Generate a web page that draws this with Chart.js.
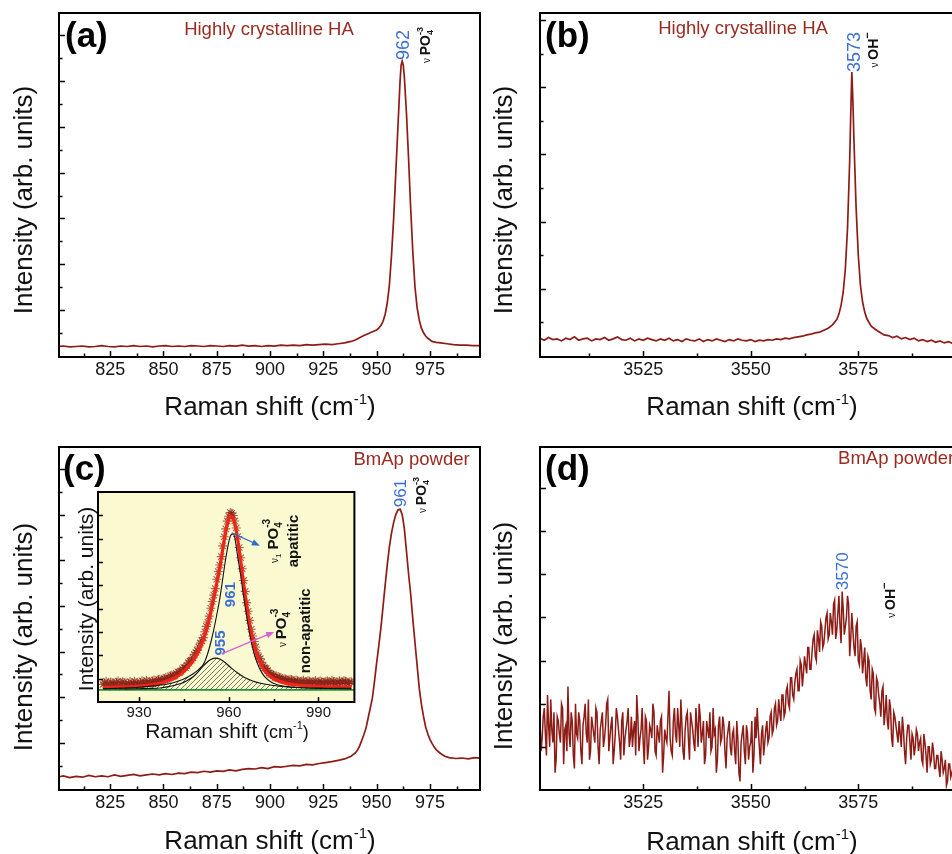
<!DOCTYPE html>
<html><head><meta charset="utf-8">
<script src="https://cdn.jsdelivr.net/npm/chart.js@4.4.0/dist/chart.umd.min.js"></script>
<style>
html,body{margin:0;padding:0;background:#fff;}
#wrap{position:relative;width:952px;height:854px;overflow:hidden;background:#fff;}
canvas{position:absolute;}
</style></head><body>
<div id="wrap">
<canvas id="cA" width="484" height="430" style="left:0px;top:0px"></canvas>
<canvas id="cB" width="490" height="430" style="left:480px;top:0px"></canvas>
<canvas id="cC" width="484" height="424" style="left:0px;top:430px"></canvas>
<canvas id="cD" width="490" height="424" style="left:480px;top:430px"></canvas>
<canvas id="cI" width="300" height="265" style="left:60px;top:480px"></canvas>
</div>
<script>
// ================= DATA =================
// tick labels
const LOW_X_LABELS = [825, 850, 875, 900, 925, 950, 975];
const HIGH_X_LABELS = [3525, 3550, 3575];
const INSET_X_LABELS = [930, 960, 990];

// (a) Highly crystalline HA, PO4 region
const A_X = [800,803,806,809,812,815,818,821,824,827,830,833,836,839,842,845,848,851,854,857,860,863,866,869,872,875,878,881,884,887,890,893,896,899,902,905,908,911,914,917,920,923,926,929,932,935,938,940,942,944,946,948,950,951,952,953,954,955,956,957,958,959,960,961,961.5,962,962.5,963,964,965,966,967,968,969,970,971,972,973,974,976,978,980,983,986,989,992,995,998.5];
const A_Y = [2.0,2.1,1.9,2.0,2.1,1.9,2.0,2.2,2.0,1.9,2.1,2.0,2.2,2.0,2.1,1.9,2.1,2.2,2.0,2.1,2.0,2.2,2.1,2.0,2.2,2.1,2.0,2.2,2.1,2.3,2.1,2.2,2.0,2.2,2.1,2.3,2.2,2.3,2.2,2.4,2.3,2.4,2.5,2.4,2.6,2.8,3.1,3.4,3.9,4.4,4.8,5.2,5.6,6.0,6.6,7.5,9.0,11.5,15.5,22,30,40,50,60,63.5,64.4,63.5,61,53,43,32,22.5,15,10.5,7.8,6.0,5.0,4.3,3.8,3.1,2.9,2.8,2.6,2.4,2.3,2.3,2.2,2.2];

// (b) Highly crystalline HA, OH region
const B_X = [3501,3502,3503,3504,3505,3506,3507,3508,3509,3510,3511,3512,3513,3514,3515,3516,3517,3518,3519,3520,3521,3522,3523,3524,3525,3526,3527,3528,3529,3530,3531,3532,3533,3534,3535,3536,3537,3538,3539,3540,3541,3542,3543,3544,3545,3546,3547,3548,3549,3550,3551,3552,3553,3554,3555,3556,3557,3558,3559,3560,3561,3562,3563,3564,3565,3566,3567,3568,3569,3570,3570.5,3571,3571.5,3572,3572.5,3573,3573.25,3573.5,3573.75,3574,3574.5,3575,3575.5,3576,3576.5,3577,3578,3579,3580,3581,3582,3583,3584,3585,3586,3587,3588,3589,3590,3591,3592,3593,3594,3595,3596,3597,3598,3599,3600];
const B_Y = [2.6,2.3,2.7,2.4,2.5,2.2,2.6,2.4,2.8,2.3,2.5,2.6,2.2,2.5,2.4,2.7,2.3,2.5,2.8,2.4,2.3,2.6,2.2,2.5,2.3,2.6,2.4,2.2,2.5,2.3,2.6,2.2,2.4,2.1,2.5,2.3,2.2,2.5,2.1,2.4,2.2,2.5,2.3,2.1,2.4,2.2,2.5,2.3,2.2,2.4,2.1,2.3,2.2,2.4,2.3,2.5,2.4,2.6,2.5,2.7,2.8,2.9,3.1,3.2,3.4,3.5,3.8,4.1,4.6,5.4,6.2,7.5,9.5,13,19,29,36,42.3,38,32,22,15,10.5,8,6.5,5.5,4.4,3.9,3.5,3.1,3.0,2.7,2.9,2.5,2.7,2.4,2.6,2.2,2.4,2.1,2.3,2.0,2.2,1.9,2.1,1.8,2.0,1.9,2.0];

// (c) BmAp powder, PO4 region
const C_X = [800,803,806,809,812,815,818,821,824,827,830,833,836,839,842,845,848,851,854,857,860,863,866,869,872,875,878,881,884,887,890,893,896,899,902,905,908,911,914,917,920,923,926,929,932,935,938,940,941,942,943,944,945,946,947,948,949,950,951,952,953,954,955,956,957,958,959,960,961,962,963,964,965,966,967,968,969,970,971,972,973,974,975,976,977,978,980,982,984,987,990,993,996,998.5];
const C_Y = [2.5,2.8,2.4,2.7,2.5,2.9,2.6,2.8,2.6,3.0,2.7,2.9,3.1,2.8,3.0,3.2,3.0,3.3,3.1,3.4,3.3,3.6,3.5,3.8,3.6,3.9,3.8,4.1,3.9,4.2,4.4,4.3,4.6,4.4,4.8,4.7,4.9,5.1,5.0,5.3,5.2,5.5,5.7,5.9,6.2,6.5,7.1,7.8,8.4,9.3,10.5,11.8,13.2,15.4,17.6,19.8,23.5,27.5,31.2,35.2,39.8,44.5,49,53,56,58.3,60,61,61.2,60,57,52,47,42.5,37,32,27,22,18.5,15.8,13.5,12,10.8,9.9,9.1,8.5,7.7,7.1,6.8,6.6,6.7,6.5,6.8,6.7];

// (d) BmAp powder, OH region: samples every 0.5 cm-1 from 3501 (D_Y) and from 3501.25 (D_Y2)
const D_X0 = 3501, D_DX = 0.5;
const D_Y = [16,12,19,8,15,21,11,4,17,13,20,6,15,
 24,10,16,5,13,18,9,15,20,11,7,17,13,19,10,14,
 18,12,20,9,15,6,13,17,11,16,8,14,19,12,
 10,16,22,9,14,11,17,7,15,12,18,8,13,16,4,14,
 11,23,9,16,13,19,10,15,7,17,12,18,14,9,
 15,20,11,16,8,14,18,10,13,4,15,11,17,9,12,16,
 8,14,6,12,2,13,9,15,7,11,4,17,19,10,13,8,
 14,11,17,13,19,15,21,16,22,18,24,19,26,21,27,23,30,24,
 31,27,33,28,35,31,37,32,38,34,40,35,
 41,36,44,37,45,34,42,38,45,31,
 41,33,38,30,35,27,
 33,24,30,21,27,18,25,20,23,15,
 22,14,19,10,17,13,
 16,10,14,6,15,11,13,8,14,
 9,12,6,11,4,10,7,9,5,
 8,3,7,5,1,6,3,5,2,6,3,4,2,5];
const D_Y2 = [9,17,13,22,10,14,18,7,16,11,19,14,9,
 13,18,8,20,12,16,6,17,13,21,9,15,11,18,6,16,
 10,15,21,12,17,9,19,14,7,18,12,16,10,17,
 14,8,17,12,19,6,16,10,14,20,9,15,11,17,8,12,
 17,12,8,19,11,15,21,9,14,18,7,16,11,19,
 10,17,13,6,16,12,9,19,14,7,17,12,15,5,14,10,
 13,9,16,4,11,15,6,13,10,16,8,12,14,6,15,11,
 16,12,18,14,20,16,18,22,17,23,20,26,22,25,28,23,29,27,
 29,33,28,32,36,30,35,39,33,37,41,36,
 39,43,35,41,38,46,36,40,43,35,
 37,31,39,29,33,30,
 26,31,23,28,19,26,22,17,24,18,
 16,21,12,18,15,11,
 13,17,9,12,15,7,12,10,13,
 11,7,13,8,10,6,11,5,8,
 5,9,4,7,2,6,4,7,3,5,1,4,3];

// inset: measured points (stars), every 1 cm-1 from 918 and from 918.5
const IN_STAR_X0 = 918;
const IN_STAR_Y = [7.5,8.9,6.8,8.2,7.1,9.0,7.6,8.4,6.9,8.8,7.7,8.3,7.2,9.1,8.0,8.7,7.9,9.4,8.6,9.8,9.1,10.6,10.2,11.5,11.3,12.9,13.1,14.8,15.6,17.6,18.9,21.2,23.6,26.2,30.1,34.3,40.2,45.8,52.6,58.7,66.9,74.2,79.6,80.9,77.6,70.9,61.8,52.1,42.6,35.0,28.3,23.6,19.4,17.0,14.6,13.6,11.9,11.6,10.4,10.6,9.5,9.9,8.8,9.6,8.4,9.1,8.1,9.3,8.0,8.9,7.8,9.2,8.1,8.7,7.6,9.0,8.2,8.8,7.7,9.1,8.3,8.9,7.9,8.6];
const IN_STAR2_X0 = 918.5;
const IN_STAR2_Y = [8.1,7.2,8.6,7.4,8.5,6.9,8.7,7.3,8.0,7.1,8.9,7.5,8.4,7.8,9.2,8.1,9.0,8.4,9.6,9.0,10.1,9.8,11.2,11.0,12.3,12.6,14.2,14.7,16.8,17.9,20.4,22.1,25.3,27.6,32.4,36.8,43.1,48.6,55.9,62.3,70.8,77.5,81.2,79.9,74.6,66.2,57.1,47.4,38.9,31.2,25.9,21.0,18.6,15.5,14.3,12.4,11.8,10.5,10.9,9.6,10.0,8.9,9.7,8.5,9.4,8.2,9.0,7.9,9.1,8.3,8.7,7.7,9.0,8.2,8.9,7.8,9.3,8.0,8.6,7.9,9.2,8.1,8.7];
// inset: cumulative fit (red) and 961 component (black)
const IN_FIT_X = [918,922,926,930,934,937,940,942,944,946,948,950,951,952,953,954,955,956,957,958,959,960,960.7,961.5,962,963,964,965,966,967,968,969,970,971,972,974,976,979,983,988,994,1001];
const IN_FIT_Y = [6.2,6.4,6.5,6.8,7.4,8.0,9.2,10.4,12.0,14.4,17.5,22.0,25.0,28.5,33.0,38.5,44.5,51.0,57.5,65.5,73.0,78.3,79.8,78.5,76.5,69.5,60.5,50.5,41.5,33.5,27.0,22.0,18.2,15.4,13.4,10.8,9.3,8.1,7.3,6.8,6.5,6.3];
const IN_P961_Y = [5.7,5.7,5.6,5.7,5.8,6.0,6.6,7.2,7.9,9.1,10.7,13.2,15.1,17.4,20.9,25.5,31.0,37.4,44.3,52.9,61.5,68.5,71.5,72.0,70.5,62.3,54.2,45.0,36.7,29.2,23.2,18.6,15.2,12.7,10.9,8.7,7.5,6.7,6.2,6.0,5.9,5.9];
// inset: 955 component (hatched)
const IN_P955_X = [918,925,930,935,940,943,946,948,950,952,954,955.7,957,959,961,963,965,968,971,975,980,986,993,1001];
const IN_P955_Y = [5.7,6.0,6.3,6.9,7.8,8.9,10.5,12.0,14.0,16.3,18.2,18.8,18.4,16.7,14.4,12.4,10.7,9.0,7.9,7.1,6.4,6.0,5.8,5.6];
// inset baseline
const IN_BASE_X = [916.3, 1002];
const IN_BASE_Y = [5.2, 5.2];

// ================= HELPERS =================
const FONT = '"Liberation Sans", Arial, Helvetica, sans-serif';
const LINE = '#8e1c16';
const BROWN = '#9a2a1f';
const BLUE = '#3a6fd6';
const F = (s, b) => (b ? 'bold ' : '') + s + 'px ' + FONT;
const pts = (xs, ys) => ys.map((y, i) => ({x: xs[i], y}));
const grid = (x0, dx, ys) => ys.map((y, i) => ({x: +(x0 + i * dx).toFixed(3), y}));

function makeTicks(first, step, isMajor) {
  return scale => {
    const t = [];
    for (let v = first; v < scale.max - 1e-6; v = +(v + step).toFixed(4)) {
      if (v > scale.min + 1e-6) t.push({value: v, major: isMajor(v)});
    }
    scale.ticks = t;
  };
}

function drawRich(ctx, px, py, rotDeg, parts, color, align) {
  ctx.save();
  ctx.translate(px, py);
  ctx.rotate((rotDeg || 0) * Math.PI / 180);
  ctx.textBaseline = 'alphabetic';
  ctx.textAlign = 'left';
  let w = 0, seg = 0, maxS = 0;
  const xs = [];
  for (const p of parts) {
    ctx.font = F(p.s, p.b);
    const pw = ctx.measureText(p.t).width;
    maxS = Math.max(maxS, p.s);
    if (p.stack) { xs.push(seg); w = Math.max(w, seg + pw); }
    else { seg = w; xs.push(w); w += pw; }
  }
  const x0 = align === 'left' ? 0 : (align === 'right' ? -w : -w / 2);
  const base = 0.36 * maxS;
  parts.forEach((p, i) => {
    ctx.font = F(p.s, p.b);
    ctx.fillStyle = p.c || color || '#111';
    ctx.fillText(p.t, x0 + xs[i], base + (p.dy || 0));
  });
  ctx.restore();
}

function drawArrow(ctx, x1, y1, x2, y2, color, lw) {
  ctx.save();
  ctx.strokeStyle = color; ctx.fillStyle = color; ctx.lineWidth = lw;
  const ang = Math.atan2(y2 - y1, x2 - x1), L = 8, W = 3.2;
  ctx.beginPath(); ctx.moveTo(x1, y1);
  ctx.lineTo(x2 - L * 0.8 * Math.cos(ang), y2 - L * 0.8 * Math.sin(ang)); ctx.stroke();
  ctx.beginPath(); ctx.moveTo(x2, y2);
  ctx.lineTo(x2 - L * Math.cos(ang) + W * Math.sin(ang), y2 - L * Math.sin(ang) - W * Math.cos(ang));
  ctx.lineTo(x2 - L * Math.cos(ang) - W * Math.sin(ang), y2 - L * Math.sin(ang) + W * Math.cos(ang));
  ctx.closePath(); ctx.fill();
  ctx.restore();
}

function notesPlugin(items) {
  return {
    id: 'notes',
    afterDatasetsDraw(chart) {
      const {ctx, chartArea: a} = chart;
      const sx = chart.scales.x, sy = chart.scales.y;
      for (const n of items) {
        if (n.arrow) {
          const [x1, y1, x2, y2] = n.arrow;
          drawArrow(ctx, sx.getPixelForValue(x1), sy.getPixelForValue(y1), sx.getPixelForValue(x2), sy.getPixelForValue(y2), n.color, n.lw || 1.3);
          continue;
        }
        const px = n.ax !== undefined ? a.left + n.ax : sx.getPixelForValue(n.x);
        const py = n.ay !== undefined ? a.top + n.ay : sy.getPixelForValue(n.y);
        drawRich(ctx, px, py, n.rot, n.parts, n.color, n.align);
      }
    }
  };
}

function framePlugin(o) {
  return {
    id: 'frame',
    beforeDraw(chart) {
      if (!o.bg) return;
      const {ctx, chartArea: a} = chart;
      ctx.save(); ctx.fillStyle = o.bg;
      ctx.fillRect(a.left, a.top, a.right - a.left, a.bottom - a.top);
      ctx.restore();
    },
    afterDraw(chart) {
      const {ctx, chartArea: a} = chart;
      const sx = chart.scales.x, sy = chart.scales.y;
      ctx.save();
      ctx.strokeStyle = '#000';
      ctx.lineWidth = 1.5;
      ctx.beginPath();
      for (const t of sx.ticks) {
        const p = Math.round(sx.getPixelForValue(t.value)) + 0.5;
        const L = t.major ? o.maj : o.min;
        ctx.moveTo(p, a.bottom); ctx.lineTo(p, a.bottom - L);
      }
      for (const t of sy.ticks) {
        const p = Math.round(sy.getPixelForValue(t.value)) + 0.5;
        const L = t.major ? o.maj : o.min;
        ctx.moveTo(a.left, p); ctx.lineTo(a.left + L, p);
      }
      ctx.stroke();
      ctx.lineWidth = o.lw || 2;
      ctx.strokeRect(a.left, a.top, a.right - a.left, a.bottom - a.top);
      ctx.restore();
    }
  };
}

function panel(id, c) {
  return new Chart(document.getElementById(id), {
    type: 'line',
    data: {datasets: c.datasets},
    options: {
      responsive: false, animation: false, devicePixelRatio: 1,
      layout: {padding: c.pad},
      plugins: {legend: {display: false}, tooltip: {enabled: false}},
      scales: {
        x: {
          type: 'linear', min: c.xmin, max: c.xmax,
          afterBuildTicks: makeTicks(c.xFirst, c.xStep, v => c.xMajors.includes(v)),
          grid: {display: false, drawTicks: false}, border: {display: false},
          ticks: {autoSkip: false, maxRotation: 0, minRotation: 0, padding: c.tickPad, color: '#151515',
                  font: {family: FONT, size: c.tickSize, lineHeight: 1},
                  callback: v => c.xMajors.includes(v) ? String(v) : ''}
        },
        y: {
          type: 'linear', min: c.ymin, max: c.ymax,
          afterBuildTicks: makeTicks(c.yFirst, c.yStep, v => Math.abs(v % c.yMajor) < 1e-6),
          grid: {display: false, drawTicks: false}, border: {display: false},
          ticks: {display: false}
        }
      }
    },
    plugins: [framePlugin(c.frame), notesPlugin(c.notes)]
  });
}

const line = (data, w) => ({data, borderColor: LINE, borderWidth: w || 1.7, pointRadius: 0, fill: false, tension: 0});
const PO4 = (nu, m, s) => [{t: 'ν ', s: nu}, {t: 'PO', s: m, b: 1}, {t: '4', s: s, b: 1, dy: 3.5}, {t: '-3', s: s, b: 1, dy: -7, stack: 1}];
const OH = [{t: 'ν ', s: 10}, {t: 'OH', s: 14, b: 1}, {t: '−', s: 11, b: 1, dy: -7}];
const YT = [{t: 'Intensity (arb. units)', s: 26}];
const XT = [{t: 'Raman shift (cm', s: 26}, {t: '-1', s: 15, dy: -11}, {t: ')', s: 26}];
const FR = {maj: 6, min: 3.5, lw: 2};

// (a)
panel('cA', {
  datasets: [line(pts(A_X, A_Y))],
  pad: {left: 59, top: 13, right: 4, bottom: 47},
  xmin: 801, xmax: 998.5, xFirst: 812.5, xStep: 12.5, xMajors: LOW_X_LABELS,
  ymin: -0.3, ymax: 74.9, yFirst: 5, yStep: 5, yMajor: 10,
  tickPad: 4, tickSize: 18, frame: FR,
  notes: [
    {ax: 6, ay: 21, align: 'left', parts: [{t: '(a)', s: 35, b: 1}], color: '#000'},
    {x: 899.5, y: 71.6, parts: [{t: 'Highly crystalline HA', s: 18.5}], color: BROWN},
    {x: 962.2, y: 67.9, rot: -90, parts: [{t: '962', s: 18}], color: BLUE},
    {x: 972.6, y: 67.9, rot: -90, parts: PO4(10, 14, 9), color: '#111'},
    {ax: -36, ay: 187, rot: -90, parts: YT, color: '#111'},
    {ax: 211, ay: 393, parts: XT, color: '#111'}
  ]
});

// (b)
panel('cB', {
  datasets: [line(pts(B_X, B_Y))],
  pad: {left: 60, top: 13, right: 4.2, bottom: 47},
  xmin: 3501, xmax: 3600, xFirst: 3512.5, xStep: 12.5, xMajors: HIGH_X_LABELS,
  ymin: -0.2, ymax: 51.1, yFirst: 5, yStep: 5, yMajor: 10,
  tickPad: 4, tickSize: 18, frame: FR,
  notes: [
    {ax: 5, ay: 21, align: 'left', parts: [{t: '(b)', s: 35, b: 1}], color: '#000'},
    {x: 3548.2, y: 48.9, parts: [{t: 'Highly crystalline HA', s: 18.5}], color: BROWN},
    {x: 3573.8, y: 45.3, rot: -90, parts: [{t: '3573', s: 18}], color: BLUE},
    {x: 3578.4, y: 45.6, rot: -90, parts: OH, color: '#111'},
    {ax: -37, ay: 187, rot: -90, parts: YT, color: '#111'},
    {ax: 212, ay: 393, parts: XT, color: '#111'}
  ]
});

// (c)
panel('cC', {
  datasets: [line(pts(C_X, C_Y))],
  pad: {left: 59, top: 17, right: 4, bottom: 38},
  xmin: 801, xmax: 998.5, xFirst: 812.5, xStep: 12.5, xMajors: LOW_X_LABELS,
  ymin: -0.3, ymax: 74.8, yFirst: 5, yStep: 5, yMajor: 10,
  tickPad: 4, tickSize: 18, frame: FR,
  notes: [
    {ax: 4, ay: 20, align: 'left', parts: [{t: '(c)', s: 35, b: 1}], color: '#000'},
    {x: 966.4, y: 72.4, parts: [{t: 'BmAp powder', s: 18.5}], color: BROWN},
    {x: 960.8, y: 64.7, rot: -90, parts: [{t: '961', s: 17}], color: BLUE},
    {x: 970.7, y: 64.3, rot: -90, parts: PO4(10, 14, 9), color: '#111'},
    {ax: -36, ay: 190, rot: -90, parts: YT, color: '#111'},
    {ax: 211, ay: 393, parts: XT, color: '#111'}
  ]
});

// (d)
const D_PTS = grid(D_X0, D_DX, D_Y).concat(grid(D_X0 + D_DX / 2, D_DX, D_Y2)).sort((p, q) => p.x - q.x);
panel('cD', {
  datasets: [line(D_PTS, 1.5)],
  pad: {left: 60, top: 17, right: 4.2, bottom: 38},
  xmin: 3501, xmax: 3600, xFirst: 3512.5, xStep: 12.5, xMajors: HIGH_X_LABELS,
  ymin: 0, ymax: 79.5, yFirst: 10, yStep: 10, yMajor: 10,
  tickPad: 4, tickSize: 18, frame: FR,
  notes: [
    {ax: 5, ay: 20, align: 'left', parts: [{t: '(d)', s: 35, b: 1}], color: '#000'},
    {x: 3570.3, y: 77.2, align: 'left', parts: [{t: 'BmAp powder', s: 18.5}], color: BROWN},
    {x: 3571.3, y: 50.7, rot: -90, parts: [{t: '3570', s: 17}], color: BLUE},
    {x: 3582.4, y: 44, rot: -90, parts: OH, color: '#111'},
    {ax: -37, ay: 189, rot: -90, parts: YT, color: '#111'},
    {ax: 212, ay: 394, parts: XT, color: '#111'}
  ]
});

// inset
const pc = document.createElement('canvas'); pc.width = 5; pc.height = 5;
const pg = pc.getContext('2d');
pg.strokeStyle = 'rgba(70,70,50,0.9)'; pg.lineWidth = 0.8;
pg.beginPath(); pg.moveTo(0, 5); pg.lineTo(5, 0); pg.moveTo(-1, 1); pg.lineTo(1, -1); pg.moveTo(4, 6); pg.lineTo(6, 4); pg.stroke();
const hatch = pg.createPattern(pc, 'repeat');

const STAR_C = 'rgba(135,30,20,0.7)';
panel('cI', {
  datasets: [
    {data: pts(IN_FIT_X, IN_P961_Y), borderColor: '#111', borderWidth: 1.1, pointRadius: 0, fill: false, cubicInterpolationMode: 'monotone'},
    {data: pts(IN_P955_X, IN_P955_Y), borderColor: '#111', borderWidth: 1.1, pointRadius: 0, fill: {value: 5.2}, backgroundColor: hatch, cubicInterpolationMode: 'monotone'},
    {data: pts(IN_FIT_X, IN_FIT_Y), borderColor: '#f02418', borderWidth: 3.2, pointRadius: 0, fill: false, cubicInterpolationMode: 'monotone'},
    {data: pts(IN_BASE_X, IN_BASE_Y), borderColor: '#1a9a3a', borderWidth: 1.6, pointRadius: 0, fill: false},
    {data: grid(IN_STAR_X0, 1, IN_STAR_Y), showLine: false, pointStyle: 'star', pointRadius: 4.5, borderWidth: 1.1,
     pointBorderColor: STAR_C, pointBackgroundColor: STAR_C},
    {data: grid(IN_STAR2_X0, 1, IN_STAR2_Y), showLine: false, pointStyle: 'star', pointRadius: 4.5, borderWidth: 1.1,
     pointBorderColor: STAR_C, pointBackgroundColor: STAR_C}
  ],
  pad: {left: 38, top: 12, right: 4, bottom: 21},
  xmin: 916.3, xmax: 1002, xFirst: 930, xStep: 15, xMajors: INSET_X_LABELS,
  ymin: 0, ymax: 90, yFirst: 10, yStep: 10, yMajor: 10,
  tickPad: 3.5, tickSize: 15, frame: {maj: 5, min: 3, lw: 2, bg: '#fbf9cf'},
  notes: [
    {x: 960.3, y: 46, rot: -90, parts: [{t: '961', s: 15, b: 1}], color: BLUE},
    {x: 957, y: 25.3, rot: -90, parts: [{t: '955', s: 15, b: 1}], color: BLUE},
    {arrow: [961.0, 72.5, 970.4, 67], color: '#2a6fd0', lw: 1.3},
    {arrow: [957.6, 20.6, 975.2, 30], color: '#d860d8', lw: 1.3},
    {x: 974.5, y: 69, rot: -90, parts: [{t: 'ν', s: 10}, {t: '1', s: 8, dy: 3}, {t: ' PO', s: 15, b: 1}, {t: '4', s: 10, b: 1, dy: 4}, {t: '-3', s: 10, b: 1, dy: -8, stack: 1}], color: '#111'},
    {x: 981.2, y: 69, rot: -90, parts: [{t: 'apatitic', s: 15, b: 1}], color: '#111'},
    {x: 977.2, y: 31.8, rot: -90, parts: [{t: 'ν ', s: 10}, {t: 'PO', s: 15, b: 1}, {t: '4', s: 10, b: 1, dy: 4}, {t: '-3', s: 10, b: 1, dy: -8, stack: 1}], color: '#111'},
    {x: 985.5, y: 30.5, rot: -90, parts: [{t: 'non-apatitic', s: 15, b: 1}], color: '#111'},
    {ax: -13, ay: 107, rot: -90, parts: [{t: 'Intensity (arb. units)', s: 21}], color: '#111'},
    {ax: 129, ay: 238, parts: [{t: 'Raman shift ', s: 21}, {t: '(cm', s: 18}, {t: '-1', s: 11, dy: -9}, {t: ')', s: 18}], color: '#111'}
  ]
});
</script>
</body></html>
